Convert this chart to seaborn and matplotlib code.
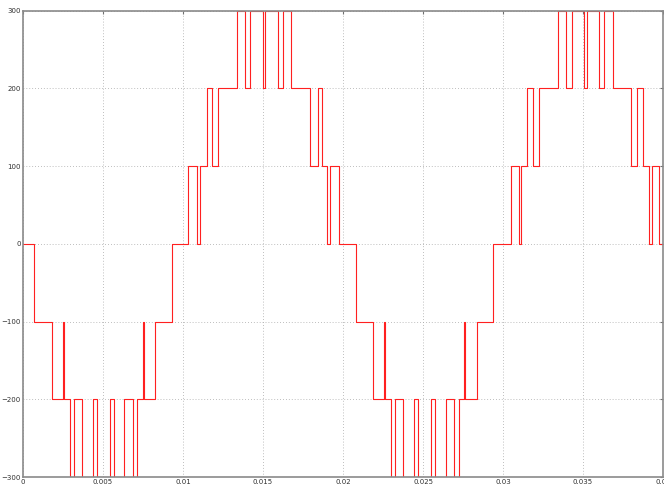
import matplotlib
matplotlib.use("Agg")
import matplotlib.pyplot as plt
import seaborn as sns
import pandas as pd

# switching instants (s) and the level held after each one (V)
switch_times = [
    0.0, 0.00071, 0.00179, 0.00250, 0.00255, 0.00294, 0.00316, 0.00369, 0.00438,
    0.00463, 0.00544, 0.00569, 0.00634, 0.00688, 0.00714, 0.00750, 0.00756,
    0.00825, 0.00934, 0.01034, 0.01089, 0.01106, 0.01148, 0.01179, 0.01219,
    0.01336, 0.01388, 0.01419, 0.01498, 0.01513, 0.01592, 0.01627, 0.01675,
    0.01794, 0.01842, 0.01867, 0.01902, 0.01919, 0.01975, 0.02078,
    0.02186, 0.02256, 0.02261, 0.02300, 0.02327, 0.02377, 0.02446, 0.02471,
    0.02548, 0.02575, 0.02642, 0.02694, 0.02725, 0.02756, 0.02763, 0.02836,
    0.02939, 0.03048, 0.03097, 0.03113, 0.03152, 0.03186, 0.03225, 0.03341,
    0.03394, 0.03429, 0.03503, 0.03522, 0.03600, 0.03633, 0.03686, 0.03800,
    0.03839, 0.03873, 0.03913, 0.03929, 0.03975, 0.04,
]
levels = [
    0, -100, -200, -100, -200, -300, -200, -300, -200,
    -300, -200, -300, -200, -300, -200, -100, -200,
    -100, 0, 100, 0, 100, 200, 100, 200,
    300, 200, 300, 200, 300, 200, 300, 200,
    100, 200, 100, 0, 100, 0, -100,
    -200, -100, -200, -300, -200, -300, -200, -300,
    -200, -300, -200, -300, -200, -100, -200, -100,
    0, 100, 0, 100, 200, 100, 200, 300,
    200, 300, 200, 300, 200, 300, 200, 100,
    200, 100, 0, 100, 0, 0,
]

x_ticks = [0, 0.005, 0.01, 0.015, 0.02, 0.025, 0.03, 0.035, 0.04]
x_labels = ["0", "0.005", "0.01", "0.015", "0.02", "0.025", "0.03", "0.035", "0.04"]
y_ticks = [-300, -200, -100, 0, 100, 200, 300]


def draw_figure():
    sns.set_style("white")
    plt.rcParams['font.family'] = ['DejaVu Sans']

    df = pd.DataFrame({'t': switch_times, 'v': levels})

    fig = plt.figure(figsize=(6.64, 4.88), dpi=100)
    ax = fig.add_axes([0.0346, 0.0225, 0.964, 0.9555])

    sns.lineplot(data=df, x='t', y='v', ax=ax, estimator=None, sort=False,
                 drawstyle='steps-post', color='#ff2020', linewidth=0.8)

    ax.set_xlim(0, 0.04)
    ax.set_ylim(-300, 300)
    ax.set_xticks(x_ticks)
    ax.set_xticklabels(x_labels)
    ax.set_yticks(y_ticks)
    ax.set_xlabel('')
    ax.set_ylabel('')

    ax.grid(True, linestyle=(0, (1, 2.5)), color='#a8a8a8', linewidth=0.6)
    ax.set_axisbelow(True)
    ax.tick_params(direction='in', length=2.5, width=0.8, color='#707070',
                   labelsize=5, labelcolor='#303030', pad=1.5,
                   top=True, right=True)
    for sp in ax.spines.values():
        sp.set_color('#8a8a8a')
        sp.set_linewidth(1.2)
        sp.set_visible(True)

    fig.savefig('out.png', dpi=100, facecolor='white')
    plt.close(fig)


if __name__ == '__main__':
    draw_figure()
